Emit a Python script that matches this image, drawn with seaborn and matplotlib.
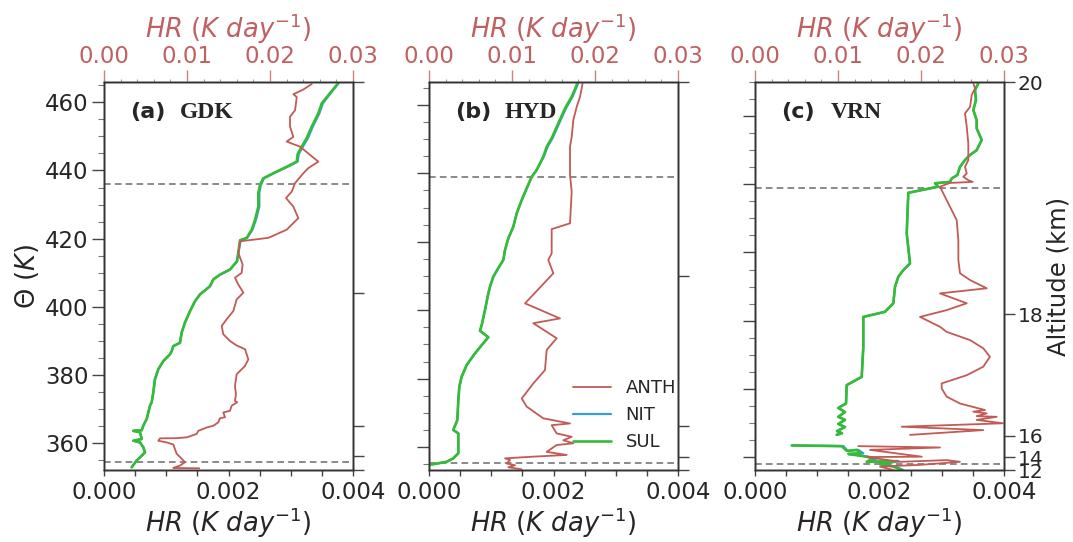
import numpy as np
import pandas as pd
import matplotlib
matplotlib.use("Agg")
import matplotlib.pyplot as plt
import seaborn as sns
from matplotlib.lines import Line2D
from matplotlib.ticker import MultipleLocator, FixedLocator

# ---------------- data ----------------
nan = np.nan
# Panel (a) GDK  -- SUL / NIT on bottom axis (K/day), ANTH on top axis (K/day)
a_theta = [352.8, 354.8, 356.2, 357.2, 358.7, 360.1, 360.6, 361.1, 363.1, 363.5, 363.7, 365.0, 367.0,
           368.9, 370.9, 371.9, 374.8, 378.7, 381.6, 384.0, 386.0, 387.0, 388.4, 389.4, 392.4, 395.3,
           398.7, 401.6, 403.6, 406.0, 408.0, 409.4, 410.9, 413.3, 415.8, 419.5, 420.2, 422.6, 425.5,
           429.4, 433.4, 435.8, 437.7, 439.2, 441.1, 442.6, 444.9, 447.0, 449.5, 452.9, 456.8, 459.7,
           462.1, 465.7]
a_sul = [0.000445, 0.000525, 0.000606, 0.000659, 0.000631, 0.000578, 0.000471, 0.000606, 0.000578,
         0.000471, 0.000606, 0.000631, 0.000686, 0.000712, 0.000739, 0.000766, 0.000792, 0.000819,
         0.000872, 0.000953, 0.001060, 0.001088, 0.001113, 0.001221, 0.001248, 0.001301, 0.001382,
         0.001462, 0.001542, 0.001703, 0.001756, 0.001863, 0.002024, 0.002136, 0.002157, 0.002185,
         0.002292, 0.002373, 0.002426, 0.002479, 0.002479, 0.002506, 0.002559, 0.002720, 0.002935,
         0.003096, 0.003112, 0.003176, 0.003256, 0.003337, 0.003443, 0.003497, 0.003603, 0.003764]
a_nit = [0.000445, 0.000525, 0.000606, 0.000659, 0.000631, 0.000578, 0.000471, 0.000606, 0.000578,
         0.000471, 0.000606, 0.000631, 0.000686, 0.000712, 0.000739, 0.000766, 0.000792, 0.000819,
         0.000872, 0.000953, 0.001060, 0.001088, 0.001113, 0.001221, 0.001248, 0.001301, 0.001382,
         0.001462, 0.001542, 0.001703, 0.001756, 0.001863, 0.002024, 0.002136, 0.002160, 0.002195,
         0.002300, 0.002385, 0.002440, 0.002495, 0.002495, 0.002520, 0.002570, 0.002730, 0.002950,
         0.003110, 0.003130, 0.003195, 0.003275, 0.003355, 0.003460, 0.003515, 0.003615, 0.003770]
a_theta_anth = [352.5, 352.6, 352.8, 353.3, 354.3, 355.3, 356.8, 358.2, 359.5, 360.1, 360.6, 361.3,
                361.35, 361.6, 362.6, 363.5, 364.5, 365.0, 366.0, 367.2, 367.5, 368.9, 369.4, 370.9,
                371.9, 372.3, 374.3, 376.7, 380.1, 382.6, 384.5, 387.5, 388.6, 389.9, 391.9, 394.3,
                396.3, 398.7, 402.1, 404.1, 406.5, 408.5, 409.9, 412.4, 415.8, 419.2, 420.2, 422.6,
                426.0, 429.4, 431.9, 433.8, 436.3, 439.2, 440.7, 442.6, 447.0, 448.5, 449.9, 452.9,
                455.8, 457.7, 461.6, 462.4, 463.8, 465.4]
a_anth = [0.01148, 0.00835, 0.00854, 0.00916, 0.00976, 0.00936, 0.00875, 0.00854, 0.00835, 0.00755,
          0.00654, 0.00675, 0.00875, 0.00997, 0.01117, 0.01136, 0.01238, 0.01317, 0.01377, 0.01397,
          0.01458, 0.01437, 0.01518, 0.01538, 0.01605, 0.01578, 0.01590, 0.01578, 0.01598, 0.01699,
          0.01739, 0.01699, 0.01598, 0.01518, 0.01437, 0.01418, 0.01478, 0.01558, 0.01598, 0.01679,
          0.01618, 0.01578, 0.01658, 0.01670, 0.01618, 0.01639, 0.01979, 0.02201, 0.02341, 0.02281,
          0.02193, 0.02262, 0.02302, 0.02402, 0.02462, 0.02582, 0.02362, 0.02201, 0.02281, 0.02241,
          0.02241, 0.02302, 0.02322, 0.02281, 0.02402, 0.02503]

# Panel (b) HYD
b_theta = [354.9, 355.0, 355.7, 356.7, 358.2, 360.1, 364.0, 365.0, 367.9, 373.7, 377.6, 380.6, 384.0,
           387.4, 389.8, 392.1, 394.0, 395.7, 400.1, 404.9, 406.9, 409.8, 412.3, 414.7, 417.6, 421.0,
           424.4, 428.3, 432.2, 435.6, 439.0, 441.0, 444.9, 447.8, 450.3, 454.6, 459.0, 462.4, 466.5]
b_sul = [0.000005, 0.000070, 0.000284, 0.000390, 0.000471, 0.000471, 0.000471, 0.000390, 0.000455,
         0.000471, 0.000487, 0.000525, 0.000606, 0.000739, 0.000847, 0.000953, 0.000819, 0.000847,
         0.000900, 0.000953, 0.000980, 0.001033, 0.001113, 0.001194, 0.001221, 0.001274, 0.001354,
         0.001409, 0.001489, 0.001569, 0.001650, 0.001730, 0.001836, 0.001891, 0.001971, 0.002077,
         0.002185, 0.002292, 0.002389]
b_nit = [0.000005, 0.000070, 0.000284, 0.000390, 0.000471, 0.000471, 0.000471, 0.000390, 0.000455,
         0.000471, 0.000487, 0.000525, 0.000606, 0.000739, 0.000847, 0.000953, 0.000819, 0.000847,
         0.000900, 0.000953, 0.000980, 0.001033, 0.001113, 0.001194, 0.001221, 0.001274, 0.001354,
         0.001409, 0.001489, 0.001569, 0.001650, 0.001730, 0.001845, 0.001905, 0.001985, 0.002090,
         0.002200, 0.002305, 0.002400]
b_theta_anth = [353.5, 354.1, 354.7, 355.2, 356.2, 356.7, 357.2, 357.7, 358.6, 360.6, 361.1, 362.0,
                363.0, 364.0, 366.4, 366.9, 368.4, 371.8, 374.2, 378.6, 382.5, 388.4, 391.8, 396.2,
                397.6, 402.0, 410.8, 414.7, 416.6, 423.7, 425.4, 434.6, 439.5, 447.8, 450.7, 455.6,
                459.5, 462.4, 466.5]
b_anth = [0.01117, 0.00956, 0.01036, 0.00936, 0.00976, 0.00916, 0.01257, 0.01659, 0.01418, 0.01538,
          0.01739, 0.01618, 0.01719, 0.01538, 0.01478, 0.01699, 0.01377, 0.01178, 0.01117, 0.01257,
          0.01397, 0.01418, 0.01538, 0.01257, 0.01578, 0.01157, 0.01498, 0.01437, 0.01478, 0.01478,
          0.01699, 0.01719, 0.01699, 0.01699, 0.01719, 0.01739, 0.01780, 0.01820, 0.01852]

# Panel (c) VRN (nan marks a gap in the profile)
c_theta = [469.6, 467.6, 464.7, 461.8, 458.8, 456.4, 453.0, 450.0, 448.6, 447.1, 445.1, 442.7, 441.7,
           440.7, 440.3, 439.3, 437.5, 425.6, 416.8, 414.8, 412.9, 409.9, 405.1, 402.6, 401.1, 392.3,
           383.5, 381.1, 375.7, 374.4, 373.2, 371.8, 370.9, 369.7, 368.8, 367.6, 367.0, 366.5, nan,
           363.4, 363.2, 361.8, 362.1, 361.1, 360.9, 360.1, 359.6, 358.6, 358.8, 357.9, 357.2, 356.2]
c_sul = [0.003587, 0.003534, 0.003550, 0.003507, 0.003561, 0.003561, 0.003642, 0.003561, 0.003454,
         0.003373, 0.003293, 0.003250, 0.003160, 0.003132, 0.002892, 0.002944, 0.002463, 0.002437,
         0.002490, 0.002382, 0.002302, 0.002249, 0.002222, 0.002088, 0.001740, 0.001740, 0.001714,
         0.001473, 0.001462, 0.001338, 0.001446, 0.001338, 0.001446, 0.001338, 0.001446, 0.001317,
         0.001398, 0.001312, nan, 0.000590, 0.001393, 0.001473, 0.001634, 0.001687, 0.001499, 0.001794,
         0.001900, 0.001794, 0.002276, 0.002008, 0.002222, 0.002357]
c_nit = [0.003587, 0.003534, 0.003550, 0.003507, 0.003561, 0.003561, 0.003642, 0.003561, 0.003454,
         0.003373, 0.003293, 0.003250, 0.003160, 0.003132, 0.002892, 0.002944, 0.002463, 0.002437,
         0.002490, 0.002382, 0.002302, 0.002249, 0.002222, 0.002088, 0.001740, 0.001740, 0.001714,
         0.001473, 0.001462, 0.001338, 0.001446, 0.001338, 0.001446, 0.001338, 0.001446, 0.001317,
         0.001398, 0.001312, nan, 0.000600, 0.001420, 0.001490, 0.001660, 0.001740, 0.001520, 0.001820,
         0.001960, 0.001810, 0.002310, 0.002030, 0.002250, 0.002380]
c_theta_anth = [469.6, 468.1, 466.2, 462.7, 460.8, 456.9, 452.0, 447.1, 445.1, 443.2, 442.2, 441.2,
                440.7, 440.4, 439.3, 437.3, 429.5, 423.6, 417.8, 413.9, 411.9, 409.5, 408.0, 405.1,
                403.1, 401.1, 398.2, 396.7, 394.3, 391.9, 389.4, 386.5, 384.0, 381.6, 380.1, 377.7,
                375.7, 374.3, 373.8, 373.3, 372.8, 372.0, 371.8, 370.9, 369.9, 368.9, 367.9, 366.5,
                nan, 363.2, 362.8, 362.1, 360.1, 360.0, 358.6, 359.1, 358.6, 357.7, 357.2, 356.2]
c_anth = [0.02630, 0.02651, 0.02611, 0.02591, 0.02530, 0.02551, 0.02570, 0.02570, 0.02530, 0.02551,
          0.02510, 0.02570, 0.02623, 0.02349, 0.02229, 0.02269, 0.02430, 0.02450, 0.02450, 0.02470,
          0.02591, 0.02792, 0.02229, 0.02551, 0.02310, 0.01988, 0.02229, 0.02310, 0.02591, 0.02750,
          0.02831, 0.02750, 0.02551, 0.02249, 0.02249, 0.02310, 0.02470, 0.02690, 0.02771, 0.02630,
          0.02792, 0.02671, 0.02912, 0.02671, 0.02988, 0.01768, 0.02750, 0.01868, nan, 0.01244,
          0.02229, 0.01385, 0.02009, 0.01346, 0.01747, 0.02310, 0.02470, 0.01988, 0.01506, 0.01667]

# dashed reference levels (theta, K)
a_dash = [436.1, 354.3]
b_dash = [438.9, 355.2]
c_dash = [439.0, 358.1]
# theta axis limits per panel
a_ylim = (352.0, 466.0)
b_ylim = (353.3, 466.7)
c_ylim = (356.2, 470.0)
# altitude (km) ticks on the right and their theta positions per panel
alt_labels = ["20", "18", "16", "14", "12"]
a_alt_theta = [466.0, 403.9, 364.9, 356.1, 352.0]
b_alt_theta = [466.7, 410.0, 366.1, 357.1, 353.3]
c_alt_theta = [470.0, 401.9, 366.2, 360.0, 356.2]

panel_tags = ["(a)", "(b)", "(c)"]
panel_sites = ["GDK", "HYD", "VRN"]
series_names = ["ANTH", "NIT", "SUL"]

# ---------------- style ----------------
sns.set_theme(style="ticks")
plt.rcParams["font.family"] = ["DejaVu Sans"]
plt.rcParams["mathtext.fontset"] = "dejavusans"

RED = "#c25a55"
BLUE = "#3a9be0"
GREEN = "#35bb35"
RED_TXT = "#c06060"
SPINE = "#333333"
TICK_FS = 16.5
LABEL_FS = 18.5

fig = plt.figure(figsize=(10.73, 5.42), dpi=100)
W = 249 / 1073
H = 388 / 542
y0 = 1 - 470 / 542
lefts = [104 / 1073, 429 / 1073, 755 / 1073]


def to_df(theta, vals):
    th = np.asarray(theta, float)
    v = np.asarray(vals, float)
    seg = np.cumsum(np.isnan(th) | np.isnan(v))
    df = pd.DataFrame({"theta": th, "hr": v, "seg": seg})
    return df.dropna()


def draw(ax, df, color, lw, z):
    sns.lineplot(data=df, x="hr", y="theta", units="seg", estimator=None, sort=False,
                 color=color, lw=lw, ax=ax, legend=False, zorder=z)


panels = [
    (a_theta, a_sul, a_nit, a_theta_anth, a_anth, a_dash, a_ylim, a_alt_theta),
    (b_theta, b_sul, b_nit, b_theta_anth, b_anth, b_dash, b_ylim, b_alt_theta),
    (c_theta, c_sul, c_nit, c_theta_anth, c_anth, c_dash, c_ylim, c_alt_theta),
]

for i, (th, sul, nit, tha, anth, dash, ylim, altth) in enumerate(panels):
    ax = fig.add_axes([lefts[i], y0, W, H])
    ax_top = ax.twiny()
    ax_alt = ax.twinx()

    draw(ax, to_df(th, nit), BLUE, 1.6, 3)
    draw(ax, to_df(th, sul), GREEN, 1.9, 4)
    draw(ax_top, to_df(tha, anth), RED, 1.3, 3)

    for d in dash:
        ax.axhline(d, color="#777777", ls=(0, (4, 2.5)), lw=1.2, zorder=2)

    ax.set_xlim(0, 0.004)
    ax_top.set_xlim(0, 0.03)
    for a_ in (ax, ax_top, ax_alt):
        a_.set_ylim(*ylim)
        for s in a_.spines.values():
            s.set_color(SPINE)
            s.set_linewidth(1.0)

    # bottom axis
    ax.xaxis.set_major_locator(FixedLocator([0.0, 0.002, 0.004]))
    ax.xaxis.set_minor_locator(MultipleLocator(0.0005))
    ax.set_xticklabels(["0.000", "0.002", "0.004"])
    ax.tick_params(axis="x", which="both", direction="out", length=4, width=1,
                   color="#444444", labelsize=TICK_FS, pad=4)
    ax.set_xlabel(r"$HR\ (K\ day^{-1})$", fontsize=LABEL_FS, labelpad=1)

    # left theta axis
    ax.yaxis.set_major_locator(MultipleLocator(20))
    ax.yaxis.set_minor_locator(MultipleLocator(5))
    ax.tick_params(axis="y", which="major", direction="out", length=9, width=1,
                   color="#444444", labelsize=TICK_FS, pad=2)
    ax.tick_params(axis="y", which="minor", direction="out", length=4.5, width=0.8,
                   color="#777777")
    if i == 0:
        ax.set_ylabel(r"$\Theta\ (K)$", fontsize=LABEL_FS, labelpad=3)
    else:
        ax.tick_params(axis="y", which="both", labelleft=False)
        ax.set_ylabel("")

    # top axis (ANTH)
    ax_top.xaxis.set_major_locator(FixedLocator([0.0, 0.01, 0.02, 0.03]))
    ax_top.xaxis.set_minor_locator(MultipleLocator(0.002))
    ax_top.set_xticklabels(["0.00", "0.01", "0.02", "0.03"])
    ax_top.tick_params(axis="x", which="major", direction="out", length=9, width=1,
                       color="#d08080", labelcolor=RED_TXT, labelsize=TICK_FS, pad=1)
    ax_top.tick_params(axis="x", which="minor", direction="out", length=2.5, width=0.8,
                       color="#999999")
    ax_top.set_xlabel(r"$HR\ (K\ day^{-1})$", fontsize=LABEL_FS, color=RED_TXT, labelpad=5)
    ax_top.set_ylabel("")

    # right altitude axis
    ax_alt.yaxis.set_major_locator(FixedLocator(altth))
    ax_alt.yaxis.set_minor_locator(FixedLocator([]))
    ax_alt.tick_params(axis="y", which="major", direction="out", length=8, width=1,
                       color="#444444", labelsize=14.5, pad=2)
    if i == 2:
        ax_alt.set_yticklabels(alt_labels)
        ax_alt.set_ylabel("Altitude (km)", fontsize=17.5, labelpad=2)
    else:
        ax_alt.set_yticklabels([])
        ax_alt.set_ylabel("")

    # panel label
    ax.text(0.105, 0.922, panel_tags[i], transform=ax.transAxes, fontsize=16,
            fontweight="bold", va="center", ha="left", zorder=6)
    ax.text(0.305, 0.922, panel_sites[i], transform=ax.transAxes, fontsize=17,
            fontweight="bold", family="Liberation Serif", va="center", ha="left", zorder=6)

    if i == 1:
        handles = [Line2D([], [], color=RED, lw=1.3),
                   Line2D([], [], color=BLUE, lw=1.6),
                   Line2D([], [], color=GREEN, lw=1.9)]
        ax_alt.legend(handles, series_names, loc="lower left", bbox_to_anchor=(0.55, 0.03),
                      frameon=False, fontsize=13, borderaxespad=0, handlelength=2.1,
                      labelspacing=0.5)

fig.savefig("out.png", dpi=100)
